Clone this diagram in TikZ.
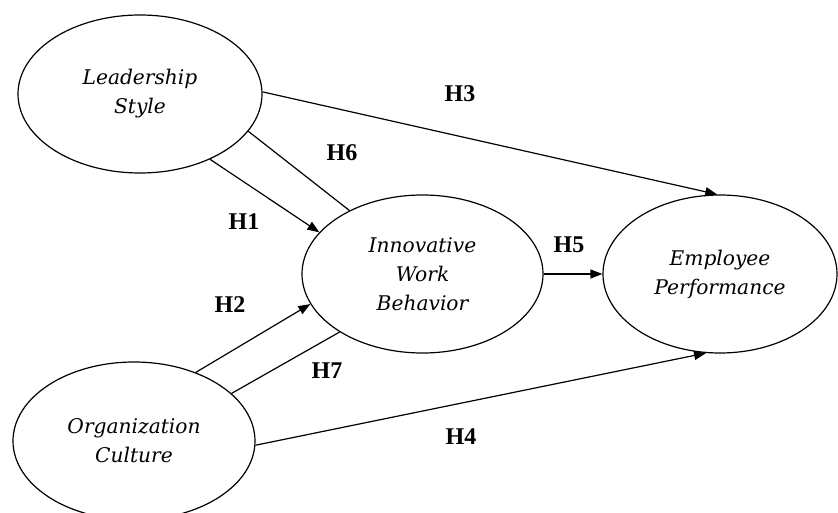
\documentclass[tikz,border=0pt]{standalone}
\usepackage{fontspec}
\setmainfont{Liberation Serif}
\newfontfamily\nodefont{DejaVu Serif}
\usetikzlibrary{shapes.geometric,arrows.meta}
\begin{document}
\begin{tikzpicture}[x=1pt,y=-1pt,
  construct/.style={ellipse,draw,line width=1.2pt,inner sep=0pt,align=center,
    font=\nodefont\itshape\fontsize{20.2}{29}\selectfont},
  link/.style={line width=1.2pt},
  arr/.style={link,-{Triangle[length=12pt,width=9pt]}},
  hyp/.style={font=\bfseries\fontsize{24}{24}\selectfont,inner sep=0pt}]
\useasboundingbox (0,0) rectangle (838,513);
\node[construct,minimum width=244pt,minimum height=158pt] (L) at (140,94) {Leadership\\Style};
\node[construct,minimum width=241pt,minimum height=158pt] (I) at (422.5,274) {Innovative\\Work\\Behavior};
\node[construct,minimum width=234pt,minimum height=158pt] (E) at (720,274) {Employee\\Performance};
\node[construct,minimum width=242pt,minimum height=158pt] (O) at (134,441) {Organization\\Culture};
\draw[arr] (L.1) -- (E.92);
\draw[link] (L.-19.5) -- (I.139.3);
\draw[arr] (L.-43.8) -- (I.158);
\draw[arr] (O.48.9) -- (I.195.8);
\draw[link] (O.26.1) -- (I.215.1);
\draw[arr] (O.-2.8) -- (E.260.9);
\draw[arr] (I.east) -- (E.west);
\node[hyp] (h3) at (460,94) {H3};
\node[hyp] (h6) at (342,153) {H6};
\node[hyp] (h1) at (244,222) {H1};
\node[hyp] (h2) at (230,305) {H2};
\node[hyp] (h7) at (327,371) {H7};
\node[hyp] (h4) at (461,437) {H4};
\node[hyp] (h5) at (569,245) {H5};
\end{tikzpicture}
\end{document}
